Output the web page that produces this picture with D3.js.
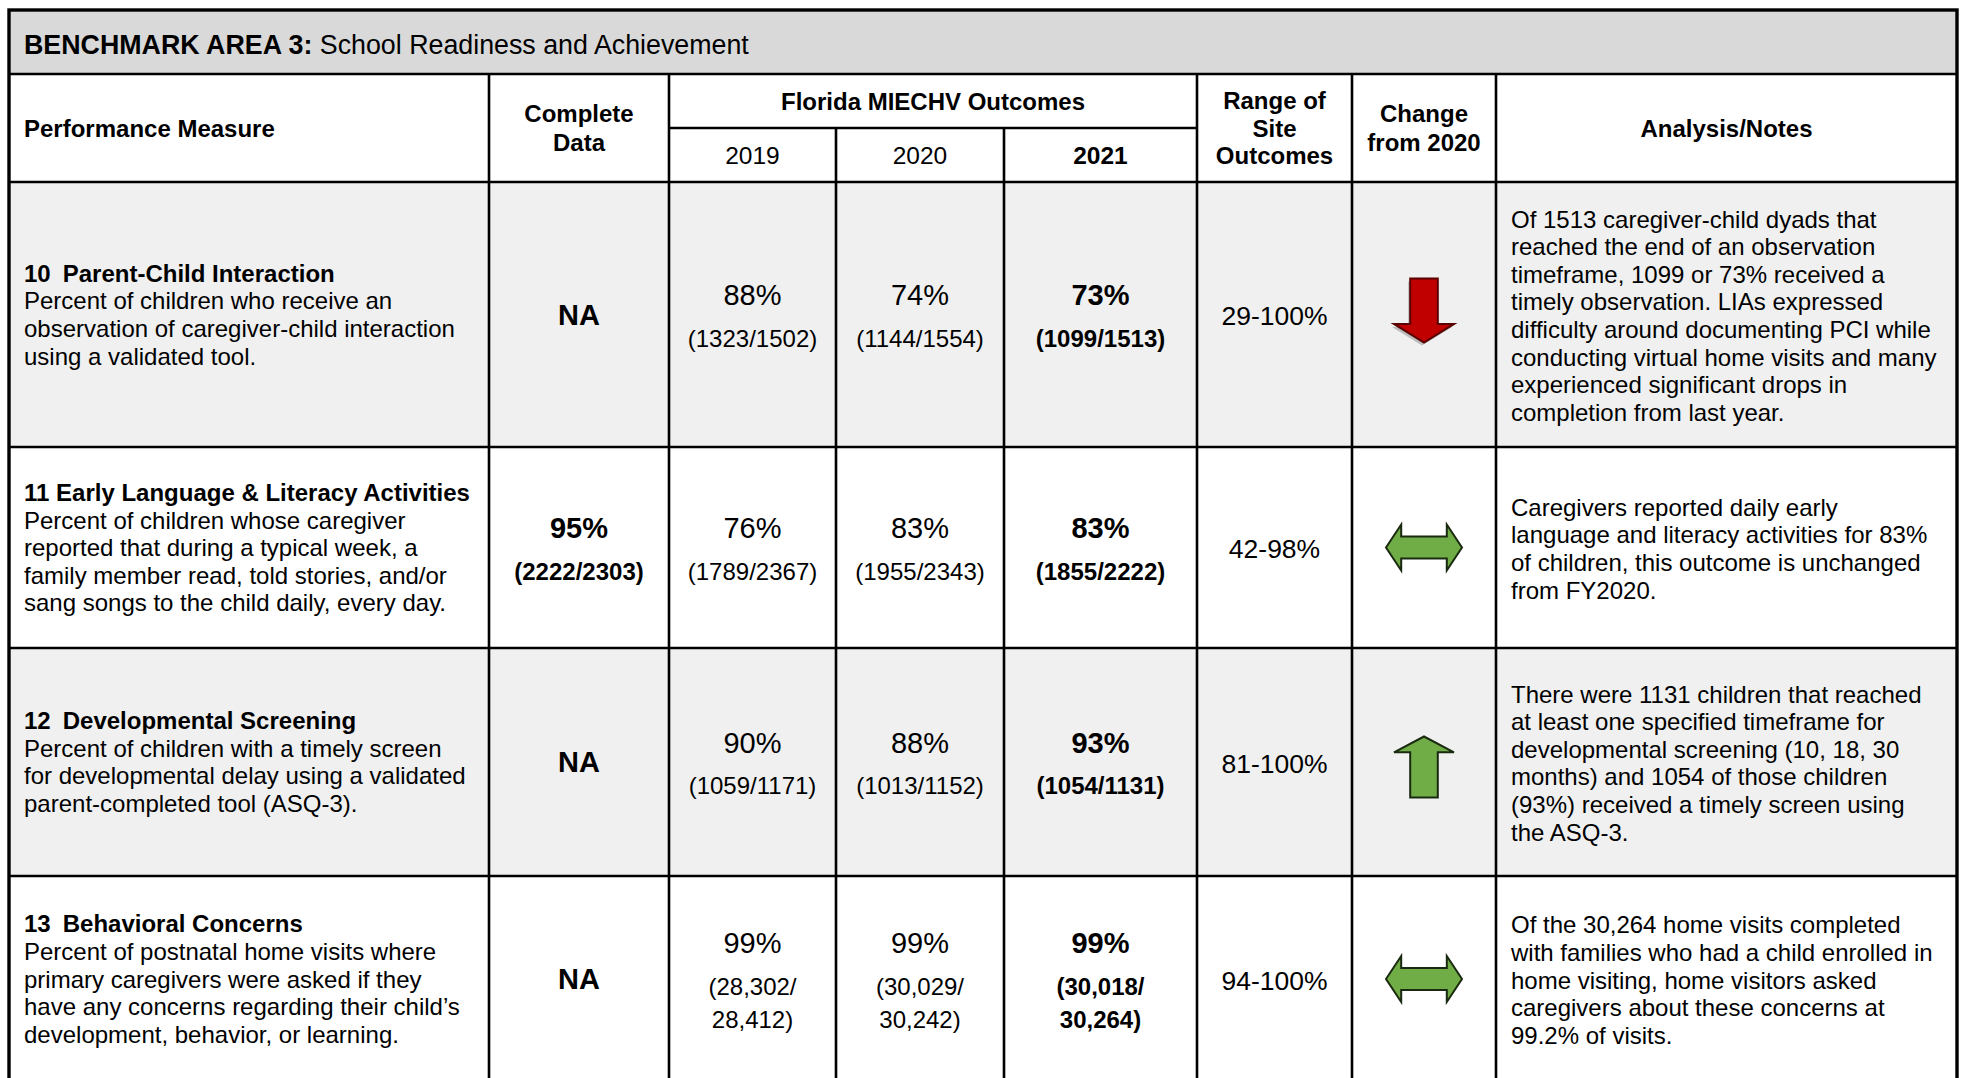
<!DOCTYPE html>
<html>
<head>
<meta charset="utf-8">
<script src="https://cdn.jsdelivr.net/npm/d3@7"></script>
<style>
body{margin:0;background:#fff}
svg text{font-family:"Liberation Sans",Arial,Helvetica,sans-serif;fill:#000}
</style>
</head>
<body>
<div id="chart"></div>
<script>
// ---- data ----
var areaLabel="BENCHMARK AREA 3:"
var areaName=" School Readiness and Achievement"

var measureTitles=["10\u2002Parent-Child Interaction","11 Early Language & Literacy Activities","12\u2002Developmental Screening","13\u2002Behavioral Concerns"]
var measureDesc=[
    ["Percent of children who receive an","observation of caregiver-child interaction","using a validated tool."],
    ["Percent of children whose caregiver","reported that during a typical week, a","family member read, told stories, and/or","sang songs to the child daily, every day."],
    ["Percent of children with a timely screen","for developmental delay using a validated","parent-completed tool (ASQ-3)."],
    ["Percent of postnatal home visits where","primary caregivers were asked if they","have any concerns regarding their child\u2019s","development, behavior, or learning."]
]
var completePct=["NA","95%","NA","NA"]
var completeFrac=[null,"(2222/2303)",null,null]

var years=["2019","2020","2021"]
var pct2019=[88,76,90,99], num2019=[1323,1789,1059,28302], den2019=[1502,2367,1171,28412]
var pct2020=[74,83,88,99], num2020=[1144,1955,1013,30029], den2020=[1554,2343,1152,30242]
var pct2021=[73,83,93,99], num2021=[1099,1855,1054,30018], den2021=[1513,2222,1131,30264]

var rangeLow=[29,42,81,94], rangeHigh=[100,98,100,100]
var changeDir=["down","same","up","same"]

var notes=[
    ["Of 1513 caregiver-child dyads that","reached the end of an observation","timeframe, 1099 or 73% received a","timely observation. LIAs expressed","difficulty around documenting PCI while","conducting virtual home visits and many","experienced significant drops in","completion from last year."],
    ["Caregivers reported daily early","language and literacy activities for 83%","of children, this outcome is unchanged","from FY2020."],
    ["There were 1131 children that reached","at least one specified timeframe for","developmental screening (10, 18, 30","months) and 1054 of those children","(93%) received a timely screen using","the ASQ-3."],
    ["Of the 30,264 home visits completed","with families who had a child enrolled in","home visiting, home visitors asked","caregivers about these concerns at","99.2% of visits."]
]

// ---- layout ----
var W=1965, H=1078
var colKeys=["measure","complete","y2019","y2020","y2021","range","change","notes"]
var colEdges=[9,489,669,836,1004,1197,1352,1496,1957]
var xl=d3.scaleOrdinal().domain(colKeys).range(colEdges.slice(0,-1))
var xr=d3.scaleOrdinal().domain(colKeys).range(colEdges.slice(1))
function xc(k){return (xl(k)+xr(k))/2}

var top0=10, titleBot=74, subLine=128, headBot=182
var rowEdges=[182,447,648,876,1082]
var rowFill=["#f0f0f0","#ffffff","#f0f0f0","#ffffff"]
var lh=27.6
var fs=24

var svg=d3.select("#chart").append("svg")
    .attr("width",W).attr("height",H)

// backgrounds
svg.append("rect").attr("x",colEdges[0]).attr("y",top0)
    .attr("width",colEdges[8]-colEdges[0]).attr("height",titleBot-top0)
    .attr("fill","#d9d9d9")
svg.selectAll("rect.row").data(rowFill).enter().append("rect")
    .attr("class","row")
    .attr("x",colEdges[0]).attr("y",function(d,i){return rowEdges[i]})
    .attr("width",colEdges[8]-colEdges[0])
    .attr("height",function(d,i){return rowEdges[i+1]-rowEdges[i]})
    .attr("fill",function(d){return d})

// multi-line text; cy = visual centre of the block
function lines(g, arr, x, cy, opts){
    var n=arr.length, step=opts.lh||lh
    var t=g.append("text")
	.attr("x",x)
	.attr("text-anchor",opts.anchor||"middle")
	.attr("font-size",opts.size||fs)
	.attr("font-weight",opts.bold?"bold":"normal")
	.style("white-space","pre")
    arr.forEach(function(s,i){
	var yy=cy-(n-1)*step/2+i*step+0.36*(opts.size||fs)
	t.append("tspan").attr("x",x).attr("y",yy).text(s)
    })
    return t
}

// title
var tt=svg.append("text").attr("x",24).attr("y",44+0.36*26.8)
    .attr("font-size",26.8).style("white-space","pre")
tt.append("tspan").attr("font-weight","bold").text(areaLabel)
tt.append("tspan").text(areaName)

// header
var hg=svg.append("g")
var hc=(titleBot+headBot)/2
lines(hg,["Performance Measure"],24,hc,{anchor:"start",bold:true})
lines(hg,["Complete","Data"],xc("complete"),hc,{bold:true,lh:29})
lines(hg,["Florida MIECHV Outcomes"],(xl("y2019")+xr("y2021"))/2,(titleBot+subLine)/2,{bold:true})
years.forEach(function(y,i){
    lines(hg,[y],xc(colKeys[2+i]),(subLine+headBot)/2,{bold:i==2,size:24.5})
})
lines(hg,["Range of","Site","Outcomes"],xc("range"),hc,{bold:true,lh:27.5})
lines(hg,["Change","from 2020"],xc("change"),hc,{bold:true,lh:28.5})
lines(hg,["Analysis/Notes"],xc("notes"),hc,{bold:true})

// body rows
var fmt=d3.format(",")
function fracLines(n,d){
    if(d>=10000) return ["("+fmt(n)+"/",fmt(d)+")"]
    return ["("+n+"/"+d+")"]
}
var yearData=[[pct2019,num2019,den2019],[pct2020,num2020,den2020],[pct2021,num2021,den2021]]

function valueCell(g,cx,cy,pct,frac,bold){
    var n=frac.length
    var span=43+33*(n-1)
    var y0=cy-span/2+2
    lines(g,[pct],cx,y0,{size:29,bold:bold})
    lines(g,frac,cx,y0+43+33*(n-1)/2,{bold:bold,lh:33})
}

var arrowShapes={
    down:{w:60,h:64,dy:-4,pts:[[-0.23,-0.5],[0.23,-0.5],[0.23,0.21],[0.5,0.21],[0,0.5],[-0.5,0.21],[-0.23,0.21]],fill:"#c00000"},
    up:{w:60,h:61,dy:5,pts:[[-0.23,0.5],[0.23,0.5],[0.23,-0.24],[0.5,-0.24],[0,-0.5],[-0.5,-0.24],[-0.23,-0.24]],fill:"#70ad47"},
    same:{w:76,h:46,dy:0,pts:[[-0.5,0],[-0.3,-0.5],[-0.3,-0.24],[0.3,-0.24],[0.3,-0.5],[0.5,0],[0.3,0.5],[0.3,0.24],[-0.3,0.24],[-0.3,0.5]],fill:"#70ad47"}
}

measureTitles.forEach(function(title,i){
    var g=svg.append("g")
    var cy=(rowEdges[i]+rowEdges[i+1])/2
    var ml=[title].concat(measureDesc[i])
    var t=lines(g,ml,24,cy,{anchor:"start"})
    t.select("tspan").attr("font-weight","bold")

    if(completeFrac[i]) valueCell(g,xc("complete"),cy,completePct[i],[completeFrac[i]],true)
    else lines(g,[completePct[i]],xc("complete"),cy,{size:29,bold:true})

    yearData.forEach(function(yd,j){
	valueCell(g,xc(colKeys[2+j]),cy,yd[0][i]+"%",fracLines(yd[1][i],yd[2][i]),j==2)
    })

    lines(g,[rangeLow[i]+"-"+rangeHigh[i]+"%"],xc("range"),cy+1,{size:26.5})

    var a=arrowShapes[changeDir[i]]
    var ax=d3.scaleLinear().domain([-0.5,0.5]).range([xc("change")-a.w/2,xc("change")+a.w/2])
    var ay=d3.scaleLinear().domain([-0.5,0.5]).range([cy+a.dy-a.h/2,cy+a.dy+a.h/2])
    var line=d3.line().x(function(p){return ax(p[0])}).y(function(p){return ay(p[1])})
    if(changeDir[i]=="down"){
	g.append("path").attr("d",line(a.pts)+"Z")
	    .attr("transform","translate(-2,3)")
	    .attr("fill","#9a9a9a").attr("opacity",0.6)
    }
    g.append("path").attr("d",line(a.pts)+"Z")
	.attr("fill",a.fill)
	.attr("stroke",changeDir[i]=="down"?"#5a0000":"#1a2a10")
	.attr("stroke-width",2)
	.attr("stroke-linejoin","miter")

    lines(g,notes[i],1511,cy+1,{anchor:"start"})
})

// grid lines
var grid=svg.append("g").attr("stroke","#000").attr("stroke-width",2.6)
grid.append("line").attr("x1",colEdges[0]).attr("x2",colEdges[8]).attr("y1",titleBot).attr("y2",titleBot)
grid.append("line").attr("x1",xl("y2019")).attr("x2",xr("y2021")).attr("y1",subLine).attr("y2",subLine)
grid.selectAll("line.h").data(rowEdges.slice(0,-1)).enter().append("line")
    .attr("x1",colEdges[0]).attr("x2",colEdges[8])
    .attr("y1",function(d){return d}).attr("y2",function(d){return d})
grid.selectAll("line.v").data(colEdges.slice(1,-1)).enter().append("line")
    .attr("x1",function(d){return d}).attr("x2",function(d){return d})
    .attr("y1",function(d){return (d==xr("y2019")||d==xr("y2020"))?subLine:titleBot})
    .attr("y2",rowEdges[rowEdges.length-1])
svg.append("rect").attr("x",colEdges[0]).attr("y",top0)
    .attr("width",colEdges[8]-colEdges[0]).attr("height",rowEdges[rowEdges.length-1]-top0)
    .attr("fill","none").attr("stroke","#000").attr("stroke-width",3.4)
</script>
</body>
</html>
